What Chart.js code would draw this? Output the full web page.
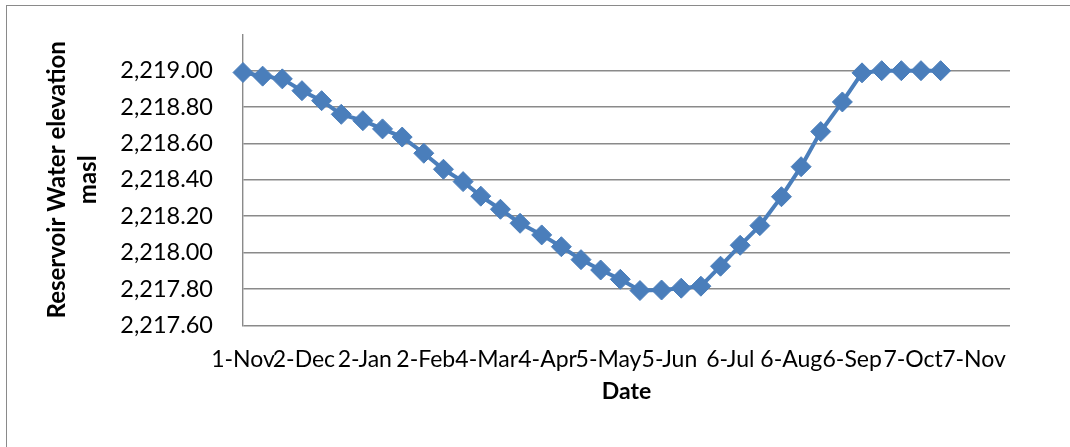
<!DOCTYPE html>
<html>
	<head>
		<title>Reservoir Water Elevation</title>
		<style type="text/css">
			body{ margin: 0; background: #fff; }
			#frame{
				position: absolute; left: 6px; top: 5px;
				width: 1070px; height: 450px;
				border: 1px solid #8a8a8a;
			}
			#chart-container{
				position: absolute; left: 0; top: 0;
				width: 1070px; height: 447px;
			}
		</style>
	</head>
	<body>
		<script type="text/javascript" src="https://cdn.jsdelivr.net/npm/chart.js@4/dist/chart.umd.min.js"></script>

		<div id="frame"></div>
		<div id="chart-container">
			<canvas id="mycanvas"></canvas>
		</div>

		<script type="text/javascript">
			// 10-day readings, Nov to Oct
			var dates=['2011-11-01','2011-11-11','2011-11-21','2011-12-01','2011-12-11','2011-12-21',
				'2012-01-01','2012-01-11','2012-01-21','2012-02-01','2012-02-11','2012-02-21',
				'2012-03-01','2012-03-11','2012-03-21','2012-04-01','2012-04-11','2012-04-21',
				'2012-05-01','2012-05-11','2012-05-21','2012-06-01','2012-06-11','2012-06-21',
				'2012-07-01','2012-07-11','2012-07-21','2012-08-01','2012-08-11','2012-08-21',
				'2012-09-01','2012-09-11','2012-09-21','2012-10-01','2012-10-11','2012-10-21'];
			var elevation=[2218.99,2218.97,2218.955,2218.89,2218.835,2218.76,
				2218.725,2218.68,2218.635,2218.546,2218.458,2218.39,
				2218.31,2218.238,2218.161,2218.097,2218.032,2217.961,
				2217.904,2217.853,2217.791,2217.794,2217.804,2217.815,
				2217.925,2218.04,2218.148,2218.307,2218.472,2218.665,
				2218.828,2218.988,2219.00,2219.00,2219.00,2219.00];
			var tickDates=['2011-11-01','2011-12-02','2012-01-02','2012-02-02','2012-03-04','2012-04-04',
				'2012-05-05','2012-06-05','2012-07-06','2012-08-06','2012-09-06','2012-10-07','2012-11-07'];
			var xTitle='Date';
			var yTitle=['Reservoir Water elevation','masl'];

			var months=['Jan','Feb','Mar','Apr','May','Jun','Jul','Aug','Sep','Oct','Nov','Dec'];
			var startDay=Date.parse(dates[0]);

			function dayNumber(d){
				return Math.round((Date.parse(d)-startDay)/86400000);
			}
			function formatDate(d){
				var p=d.split('-');
				return parseInt(p[2],10)+'-'+months[parseInt(p[1],10)-1];
			}

			var points=dates.map(function(d,i){ return {x: dayNumber(d), y: elevation[i]}; });
			var tickDays=tickDates.map(dayNumber);

			Chart.defaults.font.family='Lato';
			Chart.defaults.font.size=22;
			Chart.defaults.color='#000';

			var gridColor='#8a8a8a';
			var ctx=document.getElementById('mycanvas');

			var lineGraph=new Chart(ctx, {
				type: 'line',
				data: {
					datasets: [{
						data: points,
						borderColor: '#4a7ebb',
						backgroundColor: '#4a7ebb',
						borderWidth: 4,
						pointStyle: 'rectRot',
						pointRadius: 10,
						pointHoverRadius: 10,
						pointBorderWidth: 1,
						tension: 0,
						clip: false
					}]
				},
				options: {
					responsive: true,
					maintainAspectRatio: false,
					animation: false,
					layout: { padding: { top: 34.3, right: 60, bottom: 0, left: 0 } },
					plugins: { legend: { display: false }, tooltip: { enabled: false } },
					scales: {
						x: {
							type: 'linear',
							min: 0,
							max: 390.3,
							grid: { display: false },
							border: { display: false },
							afterBuildTicks: function(scale){
								scale.ticks=tickDays.map(function(v){ return {value: v}; });
							},
							afterFit: function(scale){ scale.height=121.7; },
							ticks: {
								autoSkip: false,
								maxRotation: 0,
								padding: 12.5,
								font: { size: 23 },
								callback: function(value, index){ return formatDate(tickDates[index]); }
							},
							title: {
								display: true,
								text: xTitle,
								font: { weight: 'bold', size: 23 },
								padding: { top: 0, bottom: 41.4 }
							}
						},
						y: {
							min: 2217.6,
							max: 2219.2,
							grid: { color: gridColor, lineWidth: 1.4, drawTicks: false },
							border: { display: true, color: gridColor, width: 1.4 },
							afterBuildTicks: function(scale){
								scale.ticks=scale.ticks.filter(function(t){ return t.value<2219.1; });
							},
							afterFit: function(scale){
								// fixed axis width, and no extra room asked for above/below the labels
								scale.width=243;
								scale.paddingTop=0;
								scale.paddingBottom=0;
							},
							ticks: {
								stepSize: 0.2,
								padding: 30,
								font: { size: 23.5 },
								callback: function(value){
									return value.toLocaleString('en-US', {minimumFractionDigits: 2, maximumFractionDigits: 2});
								}
							},
							title: {
								display: true,
								text: yTitle,
								font: { weight: 'bold', size: 24, lineHeight: 1.29 },
								padding: { top: 42, bottom: 0 }
							}
						}
					}
				}
			});
		</script>
	</body>
</html>
